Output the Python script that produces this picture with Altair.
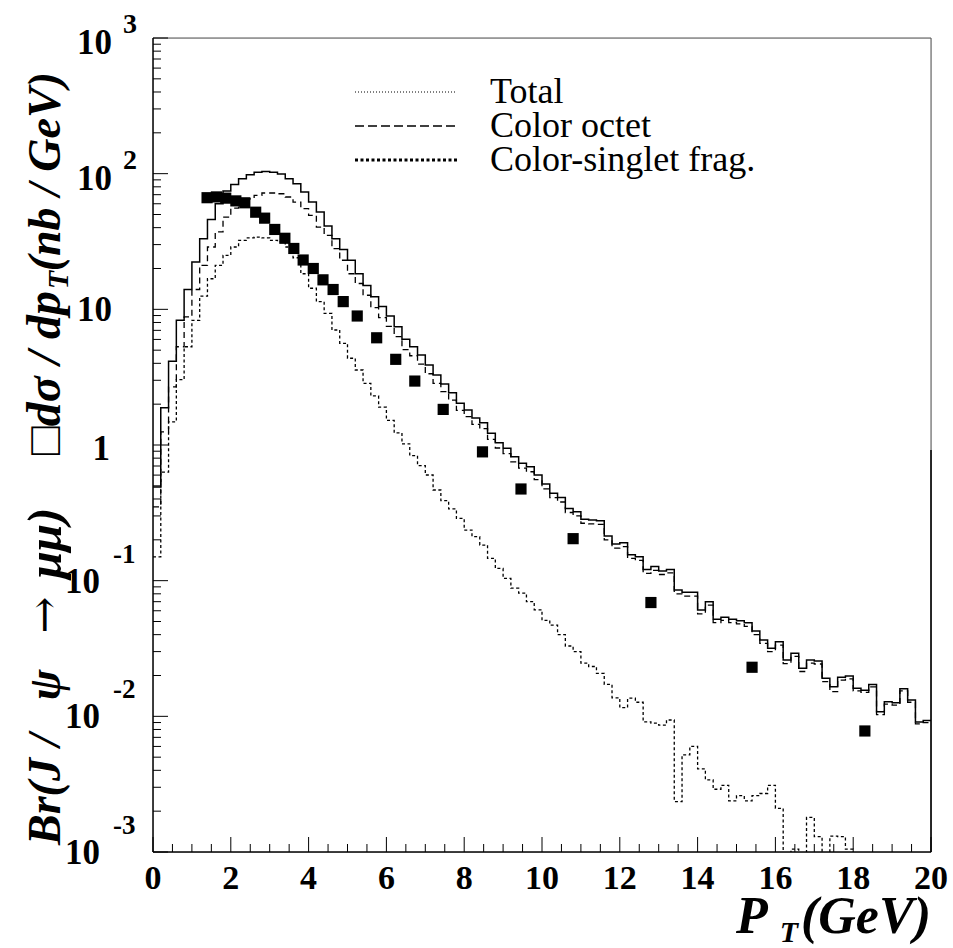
import altair as alt
import pandas as pd

# ---------------- data ----------------
bin_edges = [round(0.2 * i, 1) for i in range(101)]

total = [0.49, 1.88, 4.14, 8.3, 14.0, 22.3, 33.1, 46.0, 60.0, 74.5,
         83.3, 91.6, 98.1, 102.5, 103.8, 102.5, 99.6, 91.6, 84.3, 73.2,
         61.7, 52.1, 41.1, 33.1, 27.6, 23.0, 18.3, 15.0, 12.4, 10.5,
         8.93, 7.45, 6.01, 5.31, 4.61, 3.89, 3.28, 2.82, 2.43, 2.03,
         1.81, 1.58, 1.46, 1.22, 1.04, 0.945, 0.82, 0.733, 0.692, 0.601,
         0.516, 0.44, 0.411, 0.341, 0.322, 0.283, 0.280, 0.277, 0.213, 0.186,
         0.19, 0.155, 0.150, 0.121, 0.127, 0.118, 0.121, 0.0853, 0.082, 0.082,
         0.0608, 0.070, 0.0519, 0.0537, 0.0519, 0.0507, 0.049, 0.0425, 0.0365, 0.0318,
         0.0355, 0.026, 0.0292, 0.0226, 0.026, 0.0256, 0.0191, 0.0165, 0.0194, 0.0198,
         0.0161, 0.0156, 0.0172, 0.0108, 0.0128, 0.0126, 0.016, 0.0132, 0.0091, 0.0093]

octet = [0.35, 1.25, 2.68, 5.3, 8.8, 14.0, 21.1, 28.8, 37.2, 47.9,
         55.8, 60.0, 65.3, 69.2, 72.0, 72.0, 71.1, 67.3, 61.7, 55.2,
         49.2, 40.4, 35.1, 28.0, 23.0, 18.3, 15.5, 12.7, 10.3, 8.7,
         7.5, 6.3, 5.05, 4.55, 3.95, 3.35, 2.85, 2.47, 2.14, 1.80,
         1.62, 1.42, 1.32, 1.10, 0.95, 0.865, 0.75, 0.675, 0.635, 0.555,
         0.475, 0.41, 0.38, 0.318, 0.30, 0.265, 0.262, 0.26, 0.20, 0.174,
         0.178, 0.146, 0.141, 0.113, 0.119, 0.111, 0.114, 0.08, 0.077, 0.077,
         0.057, 0.066, 0.049, 0.051, 0.049, 0.048, 0.046, 0.040, 0.0345, 0.030,
         0.0335, 0.0245, 0.0277, 0.0214, 0.0247, 0.0243, 0.018, 0.0152, 0.0185, 0.0189,
         0.0154, 0.015, 0.0165, 0.0103, 0.0123, 0.0121, 0.0154, 0.0127, 0.0088, 0.009]

singlet = [0.15, 0.63, 1.48, 3.03, 5.3, 8.3, 12.5, 16.8, 21.1, 25.0,
           28.8, 32.2, 33.6, 34.1, 33.6, 32.2, 31.4, 28.8, 24.0, 18.3,
           14.3, 11.4, 9.35, 7.04, 5.62, 4.36, 3.57, 2.85, 2.30, 1.90,
           1.52, 1.23, 1.02, 0.834, 0.704, 0.601, 0.466, 0.389, 0.338, 0.288,
           0.236, 0.211, 0.183, 0.146, 0.123, 0.104, 0.088, 0.081, 0.070, 0.061,
           0.051, 0.047, 0.040, 0.033, 0.030, 0.0247, 0.0233, 0.0207, 0.0172, 0.0137,
           0.0116, 0.0136, 0.0127, 0.0091, 0.0089, 0.0086, 0.0094, 0.00235, 0.0052, 0.006,
           0.0041, 0.0034, 0.0029, 0.0031, 0.00238, 0.0026, 0.00238, 0.0026, 0.0027, 0.0031,
           0.0021, 0, 0.00105, 0, 0.0018, 0.0013, 0, 0.00131, 0.0013, 0.00105,
           0, 0, 0, 0, 0, 0, 0, 0, 0, 0]

data_pt = [1.39, 1.63, 1.87, 2.13, 2.36, 2.64, 2.87, 3.13, 3.39, 3.62,
           3.86, 4.12, 4.37, 4.63, 4.89, 5.25, 5.75, 6.24, 6.73, 7.46,
           8.47, 9.46, 10.8, 12.8, 15.4, 18.3]
data_val = [66.5, 67.4, 66.0, 63.0, 61.0, 52.0, 47.0, 38.8, 33.4, 28.1,
            23.1, 20.0, 16.5, 14.0, 11.4, 8.93, 6.17, 4.28, 2.96, 1.83,
            0.89, 0.474, 0.204, 0.069, 0.023, 0.0078]

edge_line = {"pt": [20.0], "lo": [0.001], "hi": [0.92]}

x_major = [0, 2, 4, 6, 8, 10, 12, 14, 16, 18, 20]
x_minor = [i * 0.5 for i in range(41) if (i * 0.5) % 2 != 0]
y_major_exp = [-3, -2, -1, 0, 1, 2, 3]
y_minor = [m * 10.0 ** k for k in range(-3, 3) for m in range(2, 10)]

legend_labels = ["Total", "Color octet", "Color-singlet frag."]

# ---------------- helpers ----------------
W, H = 778, 814
FONT = "Liberation Serif"
xs = alt.Scale(domain=[0, 20], nice=False, zero=False)
ys = alt.Scale(type="log", domain=[1e-3, 1e3], nice=False)


def step_df(vals):
    return pd.DataFrame({"pt": bin_edges, "v": list(vals) + [vals[-1]]})


def hist(vals, dash, width):
    return alt.Chart(step_df(vals)).transform_calculate(
        vv="max(datum.v, 1e-6)"
    ).mark_line(interpolate="step-after", color="black", strokeWidth=width,
                strokeDash=dash, clip=True).encode(
        x=alt.X("pt:Q", scale=xs, axis=None),
        y=alt.Y("vv:Q", scale=ys, axis=None),
    )


def label(text, x, y, size, align="left", angle=0, style="italic", weight="bold", font=FONT):
    kw = dict(font=font, fontSize=size, fontStyle=style, fontWeight=weight,
              align=align, baseline="middle")
    if angle:
        kw["angle"] = angle
    return alt.Chart(pd.DataFrame({"lab": [text]})).mark_text(**kw).encode(
        x=alt.value(x), y=alt.value(y), text="lab:N")


layers = []

# frame
frame = pd.DataFrame({"side": ["frame"]})
for (x1, x2, y1, y2, wd, col) in [(0, W, 0, 0, 1, "#555"), (W, W, 0, H, 1, "#555"),
                                  (0, 0, 0, H, 1.5, "black"), (0, W, H, H, 1.5, "black")]:
    layers.append(alt.Chart(frame).mark_rule(color=col, strokeWidth=wd).encode(
        x=alt.value(x1), x2=alt.value(x2), y=alt.value(y1), y2=alt.value(y2)))

layers.append(hist(singlet, [3, 2.5], 1.3))
layers.append(hist(octet, [6, 4], 1.3))
layers.append(hist(total, [1, 0], 1.5))

layers.append(alt.Chart(pd.DataFrame(edge_line)).mark_rule(color="black", strokeWidth=1.5).encode(
    x=alt.X("pt:Q", scale=xs, axis=None), y=alt.Y("lo:Q", scale=ys, axis=None), y2="hi:Q"))

layers.append(alt.Chart(pd.DataFrame({"pt": data_pt, "v": data_val})).mark_square(
    size=125, color="black", opacity=1).encode(
    x=alt.X("pt:Q", scale=xs, axis=None), y=alt.Y("v:Q", scale=ys, axis=None)))

# ticks (inward)
layers.append(alt.Chart(pd.DataFrame({"t": x_major})).mark_rule(color="black", strokeWidth=1).encode(
    x=alt.X("t:Q", scale=xs, axis=None), y=alt.value(H), y2=alt.value(H - 15)))
layers.append(alt.Chart(pd.DataFrame({"t": x_minor})).mark_rule(color="black", strokeWidth=1).encode(
    x=alt.X("t:Q", scale=xs, axis=None), y=alt.value(H), y2=alt.value(H - 8)))
layers.append(alt.Chart(pd.DataFrame({"t": [10.0 ** k for k in y_major_exp]})).mark_rule(
    color="black", strokeWidth=1).encode(
    y=alt.Y("t:Q", scale=ys, axis=None), x=alt.value(0), x2=alt.value(15)))
layers.append(alt.Chart(pd.DataFrame({"t": y_minor})).mark_rule(color="black", strokeWidth=1).encode(
    y=alt.Y("t:Q", scale=ys, axis=None), x=alt.value(0), x2=alt.value(8)))

# x tick labels
layers.append(alt.Chart(pd.DataFrame({"t": x_major, "lab": [str(v) for v in x_major]})).mark_text(
    font=FONT, fontSize=34, fontWeight="bold", align="center", baseline="middle").encode(
    x=alt.X("t:Q", scale=xs, axis=None), y=alt.value(H + 27), text="lab:N"))

# y tick labels
pos = pd.DataFrame({"t": [100.0, 1000.0], "base": ["10", "10"], "ex": ["2", "3"]})
neg = pd.DataFrame({"t": [0.1, 0.01, 0.001], "base": ["10", "10", "10"], "ex": ["-1", "-2", "-3"]})
ten = pd.DataFrame({"t": [10.0], "base": ["10"]})
one = pd.DataFrame({"t": [1.0], "base": ["1"]})
txt = dict(font=FONT, fontWeight="bold", baseline="middle")
layers.append(alt.Chart(pos).mark_text(fontSize=35, align="right", dy=5, **txt).encode(
    y=alt.Y("t:Q", scale=ys, axis=None), x=alt.value(-41), text="base:N"))
layers.append(alt.Chart(pos).mark_text(fontSize=28, align="left", dy=-13, **txt).encode(
    y=alt.Y("t:Q", scale=ys, axis=None), x=alt.value(-30), text="ex:N"))
layers.append(alt.Chart(ten).mark_text(fontSize=35, align="right", dy=1, **txt).encode(
    y=alt.Y("t:Q", scale=ys, axis=None), x=alt.value(-41), text="base:N"))
layers.append(alt.Chart(one).mark_text(fontSize=35, align="right", dy=4, **txt).encode(
    y=alt.Y("t:Q", scale=ys, axis=None), x=alt.value(-43), text="base:N"))
layers.append(alt.Chart(neg).mark_text(fontSize=35, align="right", dy=1, **txt).encode(
    y=alt.Y("t:Q", scale=ys, axis=None), x=alt.value(-53), text="base:N"))
layers.append(alt.Chart(neg).mark_text(fontSize=27, align="left", dy=-26, **txt).encode(
    y=alt.Y("t:Q", scale=ys, axis=None), x=alt.value(-40), text="ex:N"))

# y axis title (rotated, pieces placed as in the reference)
YT = -107
layers.append(label("Br(J /", YT, 807, 46, "left", 270))
layers.append(label("\u03c8", YT, 647, 46, "center", 270))
layers.append(label("\u2192", YT, 577, 44, "center", 270, style="normal", weight="normal",
                    font="DejaVu Serif"))
layers.append(label("\u03bc\u03bc)", YT, 505, 49, "center", 270))
layers.append(label("\u25a1d\u03c3 / dp", YT, 253, 48, "right", 270))
layers.append(label("T", YT + 13, 242, 30, "center", 270))
layers.append(label("(nb / GeV)", YT, 34, 46, "right", 270))

# x axis title
layers.append(label("P", 583, 879, 52))
layers.append(label("T", 636, 895, 30, "center"))
layers.append(label("(GeV)", 648, 879, 52))

# legend
legend_y = [54, 88, 122]
legend_dash = [[1, 2], [9, 4], [3, 2.5]]
legend_w = [1, 1.5, 3]
for lab, yy, dsh, wd in zip(legend_labels, legend_y, legend_dash, legend_w):
    layers.append(alt.Chart(pd.DataFrame({"lab": [lab]})).mark_rule(
        color="black", strokeWidth=wd, strokeDash=dsh).encode(
        x=alt.value(202), x2=alt.value(304), y=alt.value(yy)))
    layers.append(label(lab, 337, yy, 36, style="normal", weight="normal"))

chart = alt.layer(*layers).properties(
    width=W, height=H,
    autosize=alt.AutoSizeParams(type="none"),
    padding={"left": 153, "top": 38, "right": 22, "bottom": 96},
)

chart.save("out.html", embed_options={"renderer": "svg", "actions": False})
